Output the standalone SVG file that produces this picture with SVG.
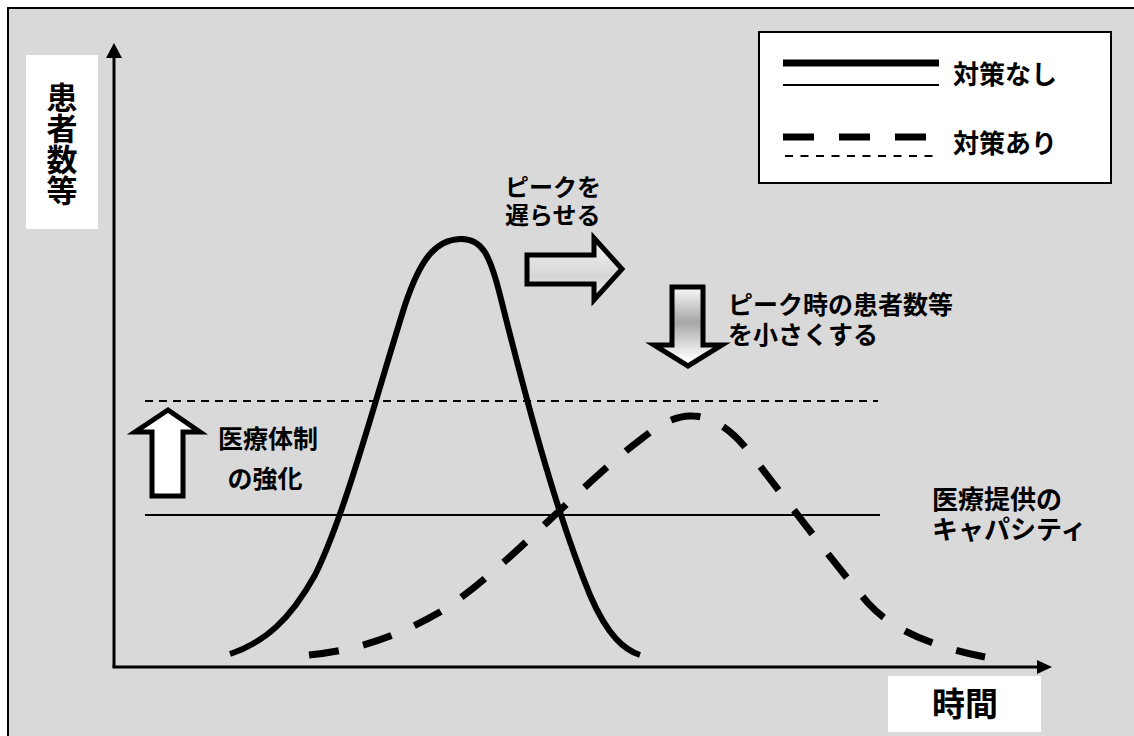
<svg xmlns="http://www.w3.org/2000/svg" width="1134" height="736" viewBox="0 0 1134 736">
<style>
.t{font-family:"Noto Sans CJK JP","Noto Sans CJK SC",sans-serif;font-weight:700;fill:#000}
.bigarrow{stroke:#000;stroke-width:5;stroke-linejoin:miter}
.axis{stroke:#000;stroke-width:3;fill:none}
</style>
<defs>
<linearGradient id="gRight" x1="0" y1="233" x2="0" y2="304" gradientUnits="userSpaceOnUse">
<stop offset="0" stop-color="#fbfbfb"/><stop offset="0.6" stop-color="#d6d6d6"/><stop offset="1" stop-color="#f0f0f0"/>
</linearGradient>
<linearGradient id="gDown" x1="0" y1="285" x2="0" y2="368" gradientUnits="userSpaceOnUse">
<stop offset="0" stop-color="#ffffff"/><stop offset="0.45" stop-color="#a6a6a6"/><stop offset="0.9" stop-color="#ffffff"/>
</linearGradient>
</defs>
<rect id="background" x="8" y="8" width="1140" height="740" fill="#d9d9d9" stroke="#000" stroke-width="2"/>

<g id="y-label">
<rect x="26" y="55" width="72" height="174" fill="#fff"/>
<text class="t" x="62" y="82" font-size="31" writing-mode="vertical-rl">患者数等</text>
</g>

<g id="x-label">
<rect x="888" y="676" width="153" height="56" fill="#fff"/>
<text class="t" x="965" y="716" font-size="33" text-anchor="middle">時間</text>
</g>

<g id="legend">
<rect x="759" y="32" width="352" height="151" fill="#fff" stroke="#000" stroke-width="2"/>
<line x1="783" y1="63" x2="939" y2="63" stroke="#000" stroke-width="7"/>
<line x1="783" y1="85" x2="939" y2="85" stroke="#000" stroke-width="2"/>
<text class="t" x="953" y="84" font-size="26">対策なし</text>
<line x1="783" y1="137" x2="939" y2="137" stroke="#000" stroke-width="7" stroke-dasharray="31 25"/>
<line x1="785" y1="156" x2="939" y2="156" stroke="#000" stroke-width="2" stroke-dasharray="8 7.5"/>
<text class="t" x="953" y="153" font-size="26">対策あり</text>
</g>

<g id="connectors">
<line class="axis" x1="114" y1="667" x2="114" y2="56"/>
<polygon points="114,43 106,58 122,58" fill="#000"/>
<line class="axis" x1="112.5" y1="667" x2="1038" y2="667"/>
<polygon points="1052,667 1037,660 1037,674" fill="#000"/>
</g>

<g id="capacity-lines">
<line x1="145" y1="401" x2="878" y2="401" stroke="#000" stroke-width="2" stroke-dasharray="8 6"/>
<line x1="145" y1="515" x2="880" y2="515" stroke="#000" stroke-width="2"/>
</g>

<g id="curve-no-measures">
<path d="M230,654 C265,642 290,620 315,575 C345,515 375,400 405,305 C420,260 435,240 460,239 C482,238 490,255 500,295 C525,395 555,510 590,595 C608,637 625,650 640,655" fill="none" stroke="#000" stroke-width="6"/>
</g>

<g id="curve-with-measures">
<path d="M309,655 C360,650 400,635 440,612 C500,575 580,485 640,440 C665,420 680,415 693,416 C712,416 732,430 750,453 C768,476 835,565 868,603 C895,633 940,648 985,657" fill="none" stroke="#000" stroke-width="7" stroke-dasharray="30 25"/>
</g>

<g id="arrow-delay">
<path class="bigarrow" d="M527,255 H594 V238 L622,269 L594,300 V284 H527 Z" fill="url(#gRight)"/>
<text class="t" font-size="24"><tspan x="505" y="196">ピークを</tspan><tspan x="505" y="224">遅らせる</tspan></text>
</g>

<g id="arrow-reduce">
<path class="bigarrow" d="M672,287 H703 V345 H722 L688,366 L654,345 H672 Z" fill="url(#gDown)"/>
<text class="t" font-size="25"><tspan x="728" y="314">ピーク時の患者数等</tspan><tspan x="728" y="344">を小さくする</tspan></text>
</g>

<g id="arrow-strengthen">
<path class="bigarrow" d="M152,496 V432 H135 L168,410 L200,432 H183 V496 Z" fill="#fff"/>
<text class="t" font-size="25" text-anchor="middle"><tspan x="268" y="448">医療体制</tspan><tspan x="265" y="488">の強化</tspan></text>
</g>

<g id="capacity-label">
<text class="t" font-size="26"><tspan x="932" y="509">医療提供の</tspan><tspan x="932" y="539">キャパシティ</tspan></text>
</g>
</svg>
